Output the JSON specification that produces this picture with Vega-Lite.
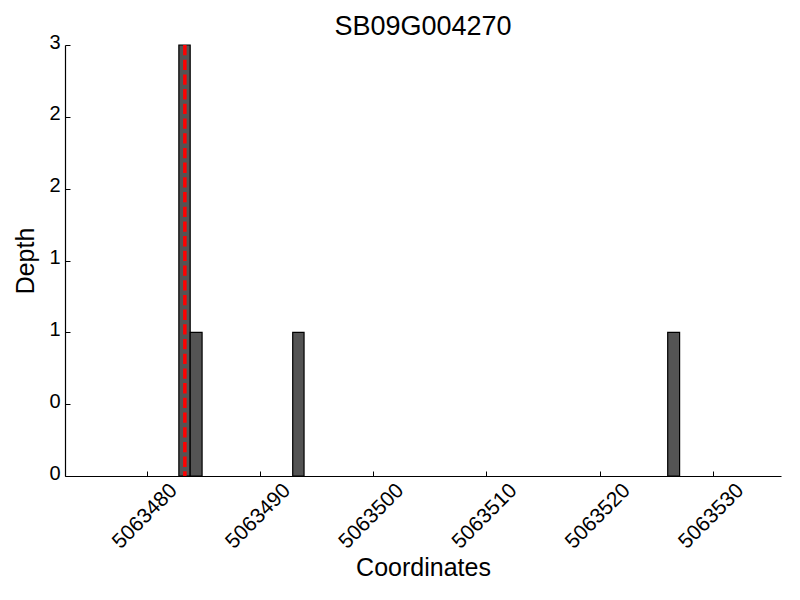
{
  "$schema": "https://vega.github.io/schema/vega-lite/v6.json",
  "autosize": "none",
  "width": 716,
  "height": 431,
  "padding": {"left": 65, "top": 45, "right": 19, "bottom": 124},
  "background": "white",
  "config": {
    "font": "Liberation Sans",
    "view": {"stroke": null}
  },
  "title": {"text": "SB09G004270", "fontSize": 27, "fontWeight": "normal", "font": "Liberation Sans", "color": "black", "offset": -9},
  "datasets": {
    "bars": [
      {"start": 5063482.85, "end": 5063483.85, "depth": 3},
      {"start": 5063483.85, "end": 5063484.9, "depth": 1},
      {"start": 5063492.9, "end": 5063493.9, "depth": 1},
      {"start": 5063526.0, "end": 5063527.05, "depth": 1}
    ],
    "marker": [{"pos": 5063483.38}]
  },
  "layer": [
    {
      "data": {"name": "bars"},
      "mark": {"type": "rect", "fill": "#545454", "stroke": "black", "strokeWidth": 1.2},
      "encoding": {
        "x": {
          "field": "start", "type": "quantitative",
          "scale": {"domain": [5063472.8, 5063536], "nice": false, "zero": false},
          "axis": {
            "title": "Coordinates", "titleFontSize": 25, "titleFontWeight": "normal", "titleColor": "black", "titlePadding": 4,
            "values": [5063480, 5063490, 5063500, 5063510, 5063520, 5063530],
            "format": "d", "labelAngle": -45, "labelAlign": "center", "labelBaseline": "middle",
            "labelPadding": 45, "labelOffset": -2, "labelFontSize": 21, "labelColor": "black",
            "tickSize": -5, "tickColor": "black", "domainColor": "black", "domainWidth": 1.2, "grid": false, "labelFlush": false, "labelOverlap": false
          }
        },
        "x2": {"field": "end"},
        "y": {
          "field": "depth", "type": "quantitative",
          "scale": {"domain": [0, 3], "nice": false},
          "axis": {
            "title": "Depth", "titleFontSize": 25, "titleFontWeight": "normal", "titleColor": "black", "titlePadding": 10,
            "values": [0, 0.5, 1, 1.5, 2, 2.5, 3],
            "labelExpr": "floor(datum.value)", "labelFontSize": 20, "labelColor": "black", "labelPadding": 10, "labelOffset": -3,
            "tickSize": -5, "tickColor": "black", "domainColor": "black", "domainWidth": 1.2, "grid": false, "labelFlush": false, "labelOverlap": false
          }
        },
        "y2": {"datum": 0}
      }
    },
    {
      "data": {"name": "marker"},
      "mark": {"type": "rule", "color": "#ff0000", "strokeWidth": 3.5, "strokeDash": [10.3, 4.4]},
      "encoding": {
        "x": {"field": "pos", "type": "quantitative"}
      }
    }
  ]
}
